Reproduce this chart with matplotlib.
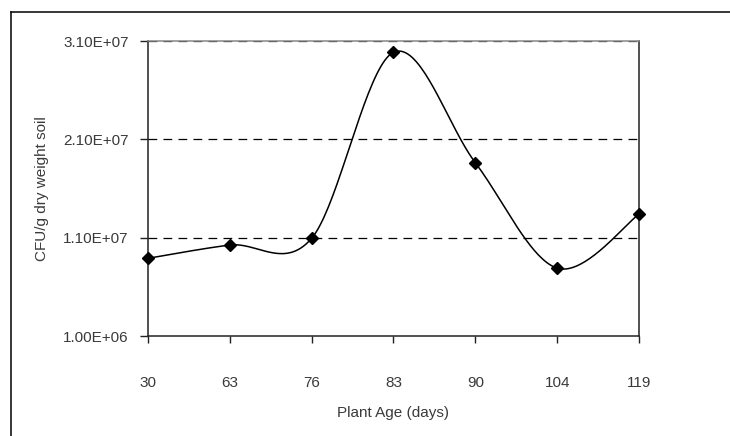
import numpy as np
import matplotlib
matplotlib.use("Agg")
import matplotlib.pyplot as plt
from matplotlib.lines import Line2D
from matplotlib.ticker import FixedLocator, FuncFormatter

# ---- data ----
plant_age = ["30", "63", "76", "83", "90", "104", "119"]
cfu = [8.9e6, 1.025e7, 1.094e7, 2.985e7, 1.862e7, 7.9e6, 1.338e7]
y_ticks = [1.0e6, 1.1e7, 2.1e7, 3.1e7]
x_label = "Plant Age (days)"
y_label = "CFU/g dry weight soil"

plt.rcParams['font.family'] = ['Liberation Sans', 'DejaVu Sans']
text_color = '#3a3a3a'

fig = plt.figure(figsize=(7.30, 4.36), dpi=100)
ax = fig.add_axes([148/730, 1 - 336/436, (639-148)/730, (336-41)/436])

# smoothed line (Catmull-Rom through the data points, like Excel smoothing)
xs = np.arange(len(cfu), dtype=float)
ys = np.array(cfu, dtype=float)
px = np.concatenate([[xs[0]], xs, [xs[-1]]])
py = np.concatenate([[ys[0]], ys, [ys[-1]]])
sx, sy = [], []
t = np.linspace(0, 1, 40)
for i in range(1, len(px) - 2):
    p0x, p1x, p2x, p3x = px[i-1], px[i], px[i+1], px[i+2]
    p0y, p1y, p2y, p3y = py[i-1], py[i], py[i+1], py[i+2]
    m1x, m2x = (p2x - p0x) / 2, (p3x - p1x) / 2
    m1y, m2y = (p2y - p0y) / 2, (p3y - p1y) / 2
    h00 = 2*t**3 - 3*t**2 + 1
    h10 = t**3 - 2*t**2 + t
    h01 = -2*t**3 + 3*t**2
    h11 = t**3 - t**2
    sx.extend(h00*p1x + h10*m1x + h01*p2x + h11*m2x)
    sy.extend(h00*p1y + h10*m1y + h01*p2y + h11*m2y)
ax.plot(sx, sy, color='black', lw=1.1, zorder=3, clip_on=False)
ax.plot(xs, ys, linestyle='none', marker='D', markersize=6, color='black',
        zorder=4, clip_on=False)

ax.set_xlim(0, len(cfu) - 1)
ax.set_ylim(y_ticks[0], y_ticks[-1])
ax.xaxis.set_major_locator(FixedLocator(xs))
ax.set_xticklabels(plant_age)
ax.yaxis.set_major_locator(FixedLocator(y_ticks))
ax.yaxis.set_major_formatter(FuncFormatter(lambda v, p: f"{v:.2E}"))

for v in y_ticks[1:]:
    ax.axhline(v, color='black', lw=0.9, linestyle=(0, (7, 5)), zorder=2)

for s in ['left', 'bottom', 'right']:
    ax.spines[s].set_color('#222222')
    ax.spines[s].set_linewidth(1.1)
ax.spines['top'].set_color('#888888')
ax.spines['top'].set_linewidth(1.1)

ax.tick_params(axis='y', direction='out', length=6, width=1, color='#222222',
               labelsize=11, labelcolor=text_color, pad=8)
ax.tick_params(axis='x', direction='out', length=5, width=1, color='#222222',
               labelsize=11, labelcolor=text_color, pad=24)

ax.set_xlabel(x_label, fontsize=11, color=text_color, labelpad=11)
ax.set_ylabel(y_label, fontsize=11, color=text_color, labelpad=10)

# outer chart frame
fx0 = 11/730
fy1 = 1 - 12/436
fig.add_artist(Line2D([fx0, 1.0], [fy1, fy1], transform=fig.transFigure,
                      color='black', lw=1.1))
fig.add_artist(Line2D([fx0, fx0], [0, fy1], transform=fig.transFigure,
                      color='black', lw=1.1))

fig.savefig("out.png", dpi=100)
